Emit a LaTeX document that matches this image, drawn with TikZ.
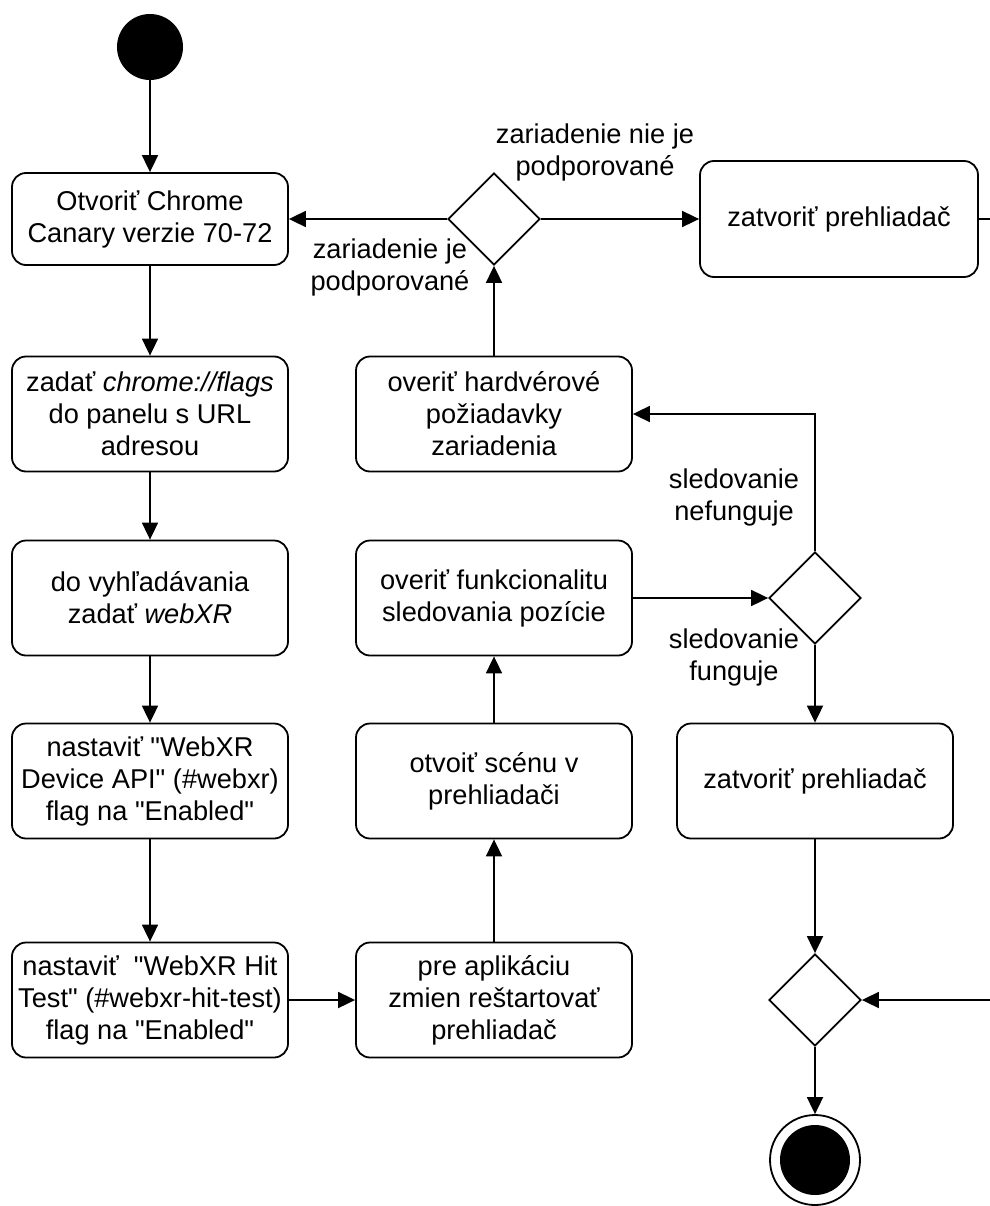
\documentclass[tikz,border=0pt]{standalone}
\usepackage{fontspec}
\setmainfont{Liberation Sans}[Ligatures=TeXOff]
\usetikzlibrary{arrows.meta,positioning,shapes.geometric}
\tikzset{
  pismo/.style={font=\fontsize{27.2}{32}\selectfont},
  krok/.style={draw, line width=1.8pt, rounded corners=14pt, align=center, inner sep=0pt,
    minimum width=276pt, minimum height=115pt, pismo},
  rozhod/.style={draw, diamond, aspect=1, line width=1.8pt, inner sep=0pt,
    minimum width=92pt, minimum height=92pt},
  popis/.style={align=center, inner sep=0pt, pismo},
  sipka/.style={line width=1.8pt, -{Triangle[length=17pt,width=16pt]}},
}
\begin{document}
\begin{tikzpicture}[x=1pt,y=-1pt]
  \useasboundingbox (0,0) rectangle (989,1206);
  % start a koniec
  \node[circle, fill=black, minimum size=66pt, inner sep=0pt] (start) at (150,47) {};
  \node[circle, draw, line width=1.8pt, minimum size=90pt, inner sep=0pt] (koniec) at (815,1160) {};
  \fill (koniec.center) circle (35);

  % lavy stlpec
  \node[krok, minimum height=92pt] (otvorit) at (150,219) {Otvoriť Chrome\\Canary verzie 70-72};
  \node[krok] (zadat) at (150,414) {zadať \textit{chrome://flags}\\do panelu s URL\\adresou};
  \node[krok] (vyhladat) at (150,598) {do vyhľadávania\\ zadať \textit{webXR}};
  \node[krok] (nastavit1) at (150,781) {nastaviť "WebXR\\Device API" (\#webxr)\\flag na "Enabled"};
  \node[krok] (nastavit2) at (150,1000) {nastaviť\ \ "WebXR Hit\\Test" (\#webxr-hit-test)\\flag na "Enabled"};

  % stredny stlpec
  \node[krok] (restart) at (494,1000) {pre aplikáciu\\zmien reštartovať\\prehliadač};
  \node[krok] (scena) at (494,781) {otvoiť scénu v\\prehliadači};
  \node[krok] (sledovanie) at (494,598) {overiť funkcionalitu\\sledovania pozície};
  \node[krok] (hardver) at (494,414) {overiť hardvérové\\požiadavky\\zariadenia};
  \node[rozhod] (rozhod1) at (494,219) {};

  % pravy stlpec
  \node[krok, minimum width=278pt, minimum height=116pt] (zatvorit1) at (839,219) {zatvoriť prehliadač};
  \node[rozhod] (rozhod2) at (815,598) {};
  \node[krok] (zatvorit2) at (815,781) {zatvoriť prehliadač};
  \node[rozhod] (spoj) at (815,1000) {};

  % prechody
  \draw[sipka] (start) -- (otvorit);
  \draw[sipka] (otvorit) -- (zadat);
  \draw[sipka] (zadat) -- (vyhladat);
  \draw[sipka] (vyhladat) -- (nastavit1);
  \draw[sipka] (nastavit1) -- (nastavit2);
  \draw[sipka] (nastavit2) -- (restart);
  \draw[sipka] (restart) -- (scena);
  \draw[sipka] (scena) -- (sledovanie);
  \draw[sipka] (sledovanie) -- (rozhod2.west);
  \draw[sipka] (rozhod2.north) |- (hardver.east);
  \draw[sipka] (rozhod2.south) -- (zatvorit2);
  \draw[sipka] (hardver) -- (rozhod1.south);
  \draw[sipka] (rozhod1.west) -- (otvorit.east);
  \draw[sipka] (rozhod1.east) -- (zatvorit1.west);
  \draw[sipka] (zatvorit1.east) -- ++(20,0) |- (spoj.east);
  \draw[sipka] (zatvorit2) -- (spoj.north);
  \draw[sipka] (spoj.south) -- (koniec);

  % popisy
  \node[popis] (nepodpor) at (595,152) {zariadenie nie je\\podporované};
  \node[popis] (podpor) at (390,267) {zariadenie je\\podporované};
  \node[popis] (nefunguje) at (734,497) {sledovanie\\nefunguje};
  \node[popis] (funguje) at (734,657) {sledovanie\\funguje};
\end{tikzpicture}
\end{document}
